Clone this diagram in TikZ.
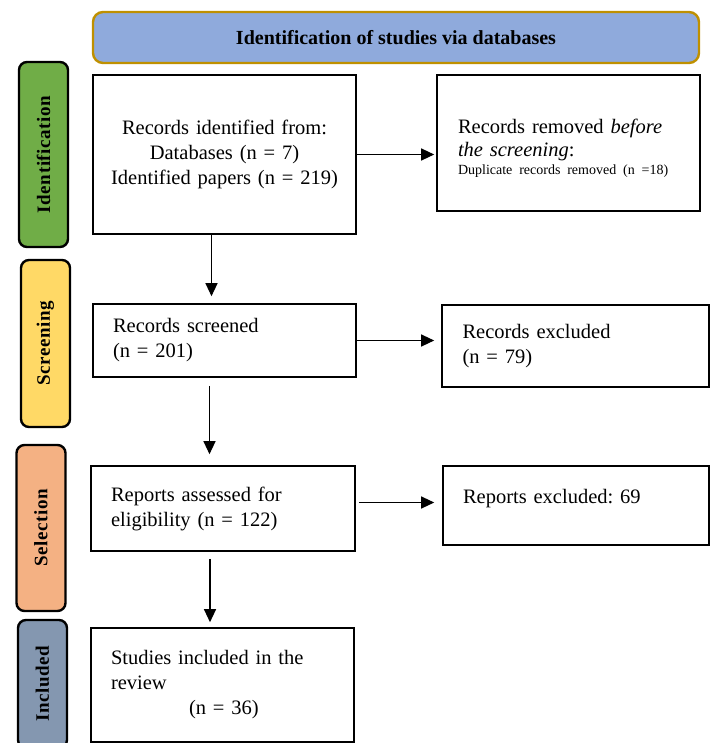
\documentclass[tikz,border=0pt]{standalone}
\usepackage{fontspec}
\setmainfont{Liberation Serif}
\newfontfamily\phasefont[LetterSpace=3]{Liberation Serif}
\usetikzlibrary{arrows.meta}
\definecolor{PhaseGreen}{HTML}{70AD47}
\definecolor{PhaseYellow}{HTML}{FFD966}
\definecolor{PhaseOrange}{HTML}{F4B183}
\definecolor{PhaseSlate}{HTML}{8497B0}
\definecolor{HeadBlue}{HTML}{8FAADC}
\definecolor{HeadGold}{HTML}{BF9000}

\begin{document}
\frenchspacing
\begin{tikzpicture}[x=1pt, y=-1pt,
    box/.style={draw, line width=1.6pt, align=left, inner sep=0pt,
      font=\fontsize{20.5}{25}\selectfont},
    phase/.style={draw, line width=2.4pt, rounded corners=8pt, inner sep=0pt,
      minimum height=49pt, rotate=90, font=\phasefont\bfseries\fontsize{19}{20}\selectfont},
    flow/.style={-{Triangle[length=13pt, width=12pt]}, line width=1.2pt}]
    \useasboundingbox (0,0) rectangle (710,743);
    \clip (0,0) rectangle (710,743);

    % header
    \node[draw=HeadGold, fill=HeadBlue, line width=2.4pt, rounded corners=10pt,
      minimum width=606pt, minimum height=51pt, font=\bfseries\fontsize{20}{22}\selectfont]
      (head) at (396,37.5) {Identification of studies via databases};

    % phase labels
    \node[phase, fill=PhaseGreen, minimum width=185pt] (ident) at (43.5,154.5) {Identification};
    \node[phase, fill=PhaseYellow, minimum width=167pt] (screen) at (45.5,343.5) {Screening};
    \node[phase, fill=PhaseOrange, minimum width=166pt] (select) at (41,528) {Selection};
    \node[phase, fill=PhaseSlate, minimum width=128pt] (incl) at (42.5,684) {Included};

    % main column
    \node[box, minimum width=263pt, minimum height=159pt, text width=263pt, align=center]
      (records) at (224.5,154.5) {Records identified from:\\Databases (n = 7)\\Identified papers (n = 219)};
    \node[box, minimum width=263pt, minimum height=73pt, text width=223pt]
      (screened) at (224.5,340.5) {Records screened\\(n = 201)};
    \node[box, minimum width=264pt, minimum height=85pt, text width=224pt]
      (assessed) at (223,508.5) {Reports assessed for\\eligibility (n = 122)};
    \node[box, minimum width=263pt, minimum height=114pt, text width=223pt]
      (included) at (222.5,685) {Studies included in the\\review\\\hspace*{78pt}(n = 36)};

    % right column
    \node[box, minimum width=263pt, minimum height=136pt, text width=221pt]
      (removed) at (568.5,143) {\rule{0pt}{24pt}Records removed \textit{before}\\[-2pt]\textit{the screening}:\\[-7pt]
      {\fontsize{14}{15}\selectfont Duplicate records removed (n =18)}};
    \node[box, minimum width=267pt, minimum height=82pt, text width=226pt]
      (excluded) at (575.5,346) {Records excluded\\(n = 79)};
    \node[box, minimum width=266pt, minimum height=79pt, text width=226pt,
      text height=15pt, text depth=19pt]
      (rexcluded) at (576,505.5) {Reports excluded: 69};

    % connectors
    \draw[flow, shorten >=7pt] ([xshift=-13pt]records.south) -- ([xshift=-13pt]records.south |- screened.north);
    \draw[flow, shorten <=8pt, shorten >=11pt] ([xshift=-15pt]screened.south) -- ([xshift=-15pt]screened.south |- assessed.north);
    \draw[flow, shorten <=7pt, shorten >=5pt] ([xshift=-13pt]assessed.south) -- ([xshift=-13pt]assessed.south |- included.north);
    \draw[flow, shorten >=2pt] (records.east) -- (records.east -| removed.west);
    \draw[flow, shorten >=7pt] (screened.east) -- (screened.east -| excluded.west);
    \draw[flow, shorten <=3pt, shorten >=8pt] ([yshift=6pt]assessed.east) -- ([yshift=6pt]assessed.east -| rexcluded.west);
\end{tikzpicture}
\end{document}
